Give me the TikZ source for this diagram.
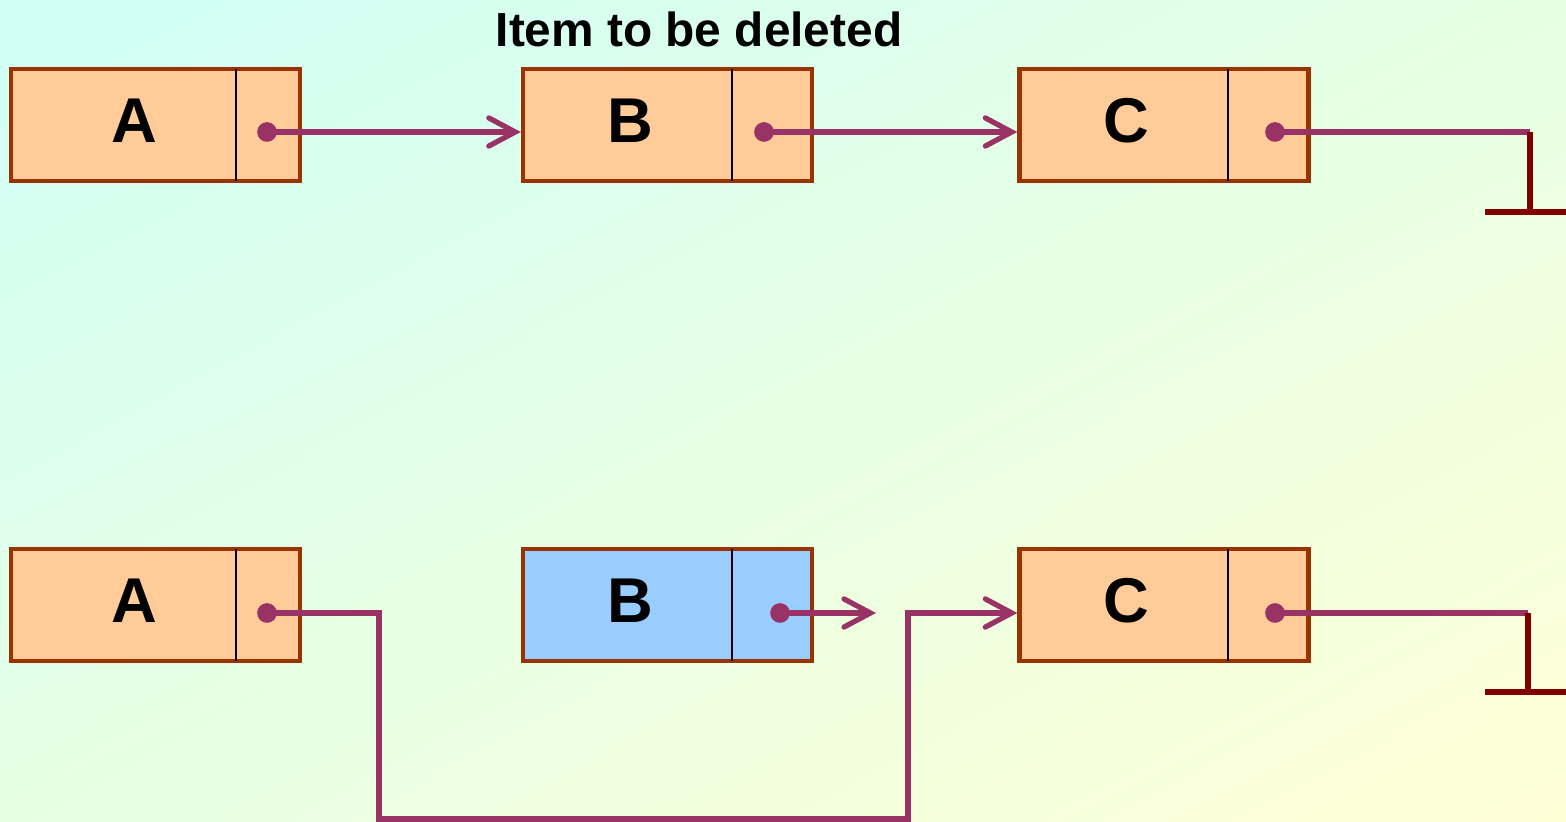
\documentclass[tikz,border=0pt]{standalone}
\usepackage{fontspec}
\setmainfont{Liberation Sans}
\usetikzlibrary{arrows.meta,shadings}
\definecolor{nodefill}{HTML}{FFCC99}
\definecolor{nodeline}{HTML}{993300}
\definecolor{delfill}{HTML}{99CCFF}
\definecolor{ptrcol}{HTML}{993366}
\definecolor{nullcol}{HTML}{800000}
\definecolor{bgA}{HTML}{CFFFF6}
\definecolor{bgB}{HTML}{FFFFD6}
\definecolor{bgM}{HTML}{E6FFE4}
\tikzset{
  listbox/.style={draw=nodeline, line width=1.2pt, fill=nodefill,
    minimum width=2.89cm, minimum height=1.12cm, inner sep=0pt},
  divider/.style={black, line width=0.6pt},
  label/.style={font=\bfseries\fontsize{18}{20}\selectfont},
  barb/.tip={Straight Barb[length=7.5pt,width=8pt,line width=1.5pt,line cap=round]},
  ptr/.style={ptrcol, line width=1.5pt, -barb},
  wire/.style={ptrcol, line width=1.5pt},
  ptrdot/.style={fill=ptrcol},
  ground/.style={nullcol, line width=1.8pt}
}
\begin{document}
\begin{tikzpicture}[x=0.01cm, y=-0.01cm]
  % background
  \shade[upper left=bgA, lower right=bgB, upper right=bgM, lower left=bgM]
    (0,0) rectangle (1566,822);
  \useasboundingbox (0,0) rectangle (1566,822);

  \node[font=\bfseries\fontsize{13.6}{16}\selectfont] (title) at (699,29) {Item to be deleted};

  % ---------- before deletion ----------
  \node[listbox] (A1) at (155.5,125) {};
  \node[listbox] (B1) at (667.5,125) {};
  \node[listbox] (C1) at (1164,125) {};
  \draw[divider] (236,69) -- (236,181);
  \draw[divider] (732,69) -- (732,181);
  \draw[divider] (1228,69) -- (1228,181);
  \node[label] (a1t) at (134,121) {A};
  \node[label] (b1t) at (630,121) {B};
  \node[label] (c1t) at (1126,121) {C};
  \coordinate (A1p) at (267,132);
  \coordinate (B1p) at (764,132);
  \coordinate (C1p) at (1275,132);
  \coordinate (n1) at (1530,132);
  \coordinate (g1) at (1530,212);
  \coordinate (g1l) at (1485,212);
  \coordinate (g1r) at (1566,212);

  \draw[ptr] (A1p) -- (B1.west |- A1p);
  \draw[ptr] (B1p) -- (C1.west |- B1p);
  \draw[wire] (C1p) -- (n1);
  \draw[ground] (n1) -- (g1);
  \draw[ground] (g1l) -- (g1r);
  \fill[ptrdot] (A1p) circle (2.8pt) (B1p) circle (2.8pt) (C1p) circle (2.8pt);

  % ---------- after deletion ----------
  \node[listbox] (A2) at (155.5,605) {};
  \node[listbox, fill=delfill] (B2) at (667.5,605) {};
  \node[listbox] (C2) at (1164,605) {};
  \draw[divider] (236,549) -- (236,661);
  \draw[divider] (732,549) -- (732,661);
  \draw[divider] (1228,549) -- (1228,661);
  \node[label] (a2t) at (134,601) {A};
  \node[label] (b2t) at (630,601) {B};
  \node[label] (c2t) at (1126,601) {C};
  \coordinate (A2p) at (267,613);
  \coordinate (B2p) at (780,613);
  \coordinate (C2p) at (1275,613);
  \coordinate (B2end) at (876,613);
  \coordinate (k1) at (379,613);
  \coordinate (k2) at (379,819);
  \coordinate (k3) at (908,819);
  \coordinate (k4) at (908,613);
  \coordinate (n2) at (1528,613);
  \coordinate (g2) at (1528,692);
  \coordinate (g2l) at (1485,692);
  \coordinate (g2r) at (1566,692);

  \draw[ptr] (A2p) -- (k1) -- (k2) -- (k3) -- (k4) -- (C2.west |- k4);
  \draw[ptr] (B2p) -- (B2end);
  \draw[wire] (C2p) -- (n2);
  \draw[ground] (n2) -- (g2);
  \draw[ground] (g2l) -- (g2r);
  \fill[ptrdot] (A2p) circle (2.8pt) (B2p) circle (2.8pt) (C2p) circle (2.8pt);
\end{tikzpicture}
\end{document}
